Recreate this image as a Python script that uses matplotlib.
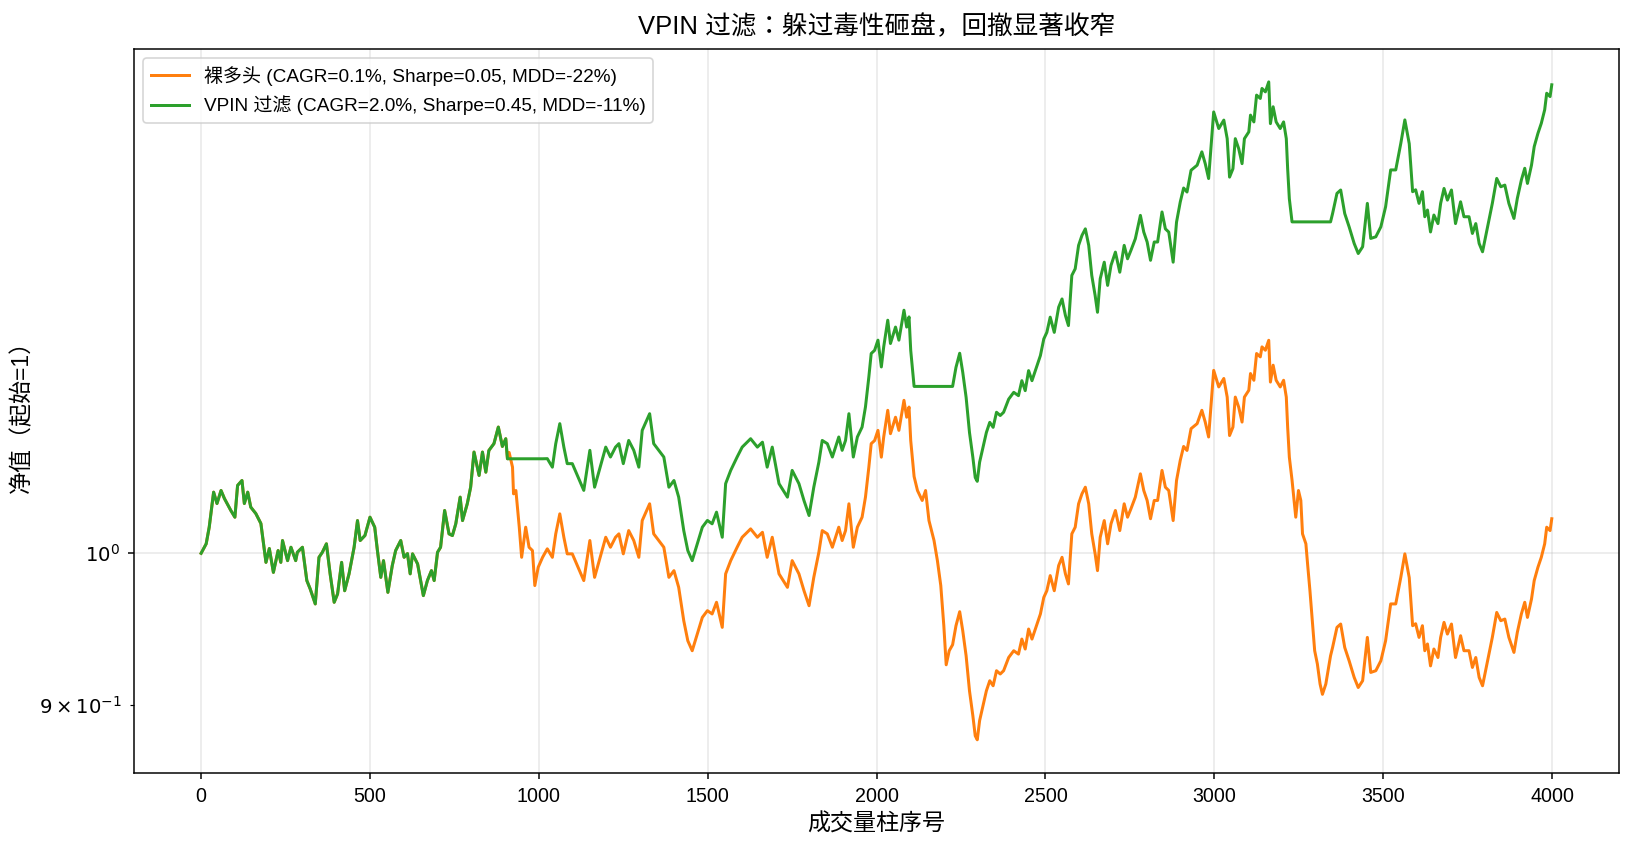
import matplotlib
matplotlib.use("Agg")
import matplotlib.pyplot as plt
from matplotlib.ticker import FixedLocator, FixedFormatter

plt.rcParams['font.family'] = ['Liberation Sans', 'Noto Sans CJK KR', 'DejaVu Sans']
plt.rcParams['axes.unicode_minus'] = False

# ---------------- data ----------------
bar_idx = [
    0, 15, 24, 37, 47, 59, 69, 88, 100, 108, 121, 128, 138, 147, 162, 177, 192, 202, 214, 228,
    236, 241, 256, 266, 280, 285, 300, 313, 323, 338, 349, 359, 371, 382, 394, 404, 416, 425, 438, 453,
    463, 471, 485, 500, 514, 522, 532, 540, 553, 566, 576, 591, 601, 611, 619, 626, 641, 658, 670, 682,
    690, 700, 709, 721, 734, 744, 754, 767, 774, 788, 798, 808, 823, 833, 843, 852, 867, 880, 892, 902, 907,
    912, 922, 925, 932, 942, 949, 961, 971, 981, 988, 998, 1011, 1025, 1040, 1050, 1062, 1074, 1084, 1099, 1114,
    1133, 1151, 1165, 1183, 1198, 1212, 1227, 1237, 1250, 1266, 1281, 1296, 1306, 1328, 1340, 1355, 1370, 1385, 1400, 1414,
    1429, 1441, 1454, 1469, 1484, 1499, 1513, 1526, 1543, 1553, 1568, 1587, 1602, 1627, 1647, 1662, 1676, 1691, 1711, 1736,
    1750, 1770, 1785, 1800, 1814, 1829, 1839, 1854, 1869, 1888, 1898, 1908, 1918, 1931, 1943, 1957, 1967, 1977, 1984, 1994,
    2004, 2014, 2021, 2033, 2041, 2056, 2066, 2081, 2089, 2096, 2101, 2111,
    2121, 2135, 2145, 2155, 2170, 2180, 2190, 2199, 2206, 2215, 2225, 2235, 2246, 2255, 2265, 2275, 2285, 2292, 2298, 2305,
    2315, 2325, 2335, 2345, 2355, 2366, 2376, 2391, 2406, 2420, 2430, 2440, 2450, 2460, 2475, 2485, 2495, 2504, 2514, 2526,
    2539, 2549, 2559, 2568, 2578, 2588, 2598, 2608, 2618, 2628, 2637, 2647, 2654, 2662, 2674, 2684, 2694, 2707, 2720, 2733,
    2743, 2753, 2766, 2781, 2791, 2801, 2811, 2822, 2832, 2845, 2855, 2865, 2878, 2888, 2899, 2909, 2919, 2931, 2949, 2963,
    2973, 2983, 2998, 3013, 3028, 3038, 3045, 3055, 3062, 3072, 3082, 3089, 3102, 3107, 3117, 3125, 3136, 3141, 3151, 3161,
    3166, 3174, 3183, 3195, 3205, 3213, 3217, 3222, 3230,
    3241, 3249, 3256, 3261, 3271, 3276, 3283, 3290, 3297, 3305, 3313, 3320, 3330, 3340, 3344, 3350, 3363, 3374, 3386, 3399,
    3414, 3426, 3439, 3453, 3463, 3478, 3493, 3507, 3522, 3537, 3552, 3564, 3577, 3587, 3596, 3606, 3616, 3623, 3631, 3640,
    3650, 3662, 3670, 3680, 3690, 3702, 3714, 3729, 3739, 3754, 3764, 3774, 3784, 3794, 3803, 3813, 3823, 3836, 3848, 3860,
    3872, 3887, 3897, 3909, 3919, 3927, 3939, 3947, 3958, 3968, 3978, 3984, 3994, 3999,
]

naked_long = [
    1.0000, 1.0066, 1.0183, 1.0434, 1.0352, 1.0446, 1.0388, 1.0302, 1.0254, 1.0483,
    1.0519, 1.0352, 1.0434, 1.0326, 1.0280, 1.0209, 0.9937, 1.0033, 0.9868, 1.0019,
    0.9937, 1.0089, 0.9949, 1.0042, 0.9949, 1.0007, 1.0042, 0.9812, 0.9755, 0.9654,
    0.9972, 1.0007, 1.0066, 0.9858, 0.9665, 0.9721, 0.9937, 0.9743, 0.9858, 1.0042,
    1.0230, 1.0089, 1.0124, 1.0254, 1.0183, 1.0019, 0.9834, 0.9949, 0.9732, 0.9915,
    1.0019, 1.0089, 0.9972, 0.9998, 0.9858, 0.9996, 0.9926, 0.9710, 0.9812, 0.9880,
    0.9812, 1.0007, 1.0042, 1.0302, 1.0136, 1.0124, 1.0207, 1.0398, 1.0230, 1.0350,
    1.0470, 1.0729, 1.0556, 1.0729, 1.0580, 1.0741, 1.0792, 1.0917, 1.0771, 1.0829, 1.0679,
    1.0726, 1.0617, 1.0422, 1.0446, 1.0183, 0.9972, 1.0183, 1.0042, 1.0019, 0.9778,
    0.9903, 0.9972, 1.0031, 0.9972, 1.0136, 1.0278, 1.0112, 0.9996, 0.9996, 0.9915,
    0.9812, 1.0089, 0.9834, 0.9984, 1.0112, 1.0042, 1.0112, 1.0136, 0.9996, 1.0159,
    1.0089, 0.9972, 1.0230, 1.0350, 1.0136, 1.0089, 1.0042, 0.9834, 0.9880, 0.9766,
    0.9542, 0.9410, 0.9345, 0.9454, 0.9564, 0.9609, 0.9587, 0.9665, 0.9498, 0.9858,
    0.9949, 1.0042, 1.0112, 1.0171, 1.0112, 1.0147, 0.9972, 1.0112, 0.9858, 0.9766,
    0.9949, 0.9858, 0.9743, 0.9642, 0.9834, 1.0007, 1.0159, 1.0136, 1.0042, 1.0183,
    1.0089, 1.0159, 1.0350, 1.0042, 1.0183, 1.0254, 1.0398, 1.0617, 1.0792, 1.0815,
    1.0892, 1.0691, 1.0842, 1.1045, 1.0867, 1.0992, 1.0892, 1.1122, 1.0992, 1.1070,
    1.0815, 1.0548,
    1.0446, 1.0374, 1.0446, 1.0230, 1.0089, 0.9949, 0.9778, 0.9509, 0.9254, 0.9345,
    0.9384, 0.9509, 0.9602, 0.9476, 0.9312, 0.9088, 0.8931, 0.8808, 0.8784, 0.8902,
    0.8994, 0.9088, 0.9152, 0.9120, 0.9216, 0.9195, 0.9216, 0.9301, 0.9345, 0.9323,
    0.9421, 0.9356, 0.9487, 0.9421, 0.9520, 0.9587, 0.9698, 0.9743, 0.9846, 0.9743,
    0.9915, 0.9972, 0.9858, 0.9789, 1.0136, 1.0183, 1.0350, 1.0422, 1.0470, 1.0350,
    1.0136, 0.9996, 0.9880, 1.0112, 1.0230, 1.0066, 1.0207, 1.0302, 1.0159, 1.0350,
    1.0254, 1.0314, 1.0398, 1.0568, 1.0446, 1.0374, 1.0243, 1.0374, 1.0374, 1.0593,
    1.0470, 1.0446, 1.0230, 1.0519, 1.0667, 1.0771, 1.0741, 1.0905, 1.0943, 1.1045,
    1.0955, 1.0842, 1.1356, 1.1226, 1.1292, 1.1147, 1.0853, 1.0917, 1.1147, 1.1070,
    1.0955, 1.1147, 1.1200, 1.1331, 1.1278, 1.1490, 1.1463, 1.1543, 1.1516, 1.1596,
    1.1264, 1.1397, 1.1278, 1.1226, 1.1278, 1.1147, 1.0917, 1.0691, 1.0521,
    1.0254, 1.0446, 1.0374, 1.0136, 1.0066, 0.9926, 0.9743, 0.9542, 0.9345, 0.9259,
    0.9131, 0.9066, 0.9131, 0.9259, 0.9312, 0.9366, 0.9498, 0.9520, 0.9366, 0.9280,
    0.9173, 0.9109, 0.9152, 0.9432, 0.9205, 0.9216, 0.9280, 0.9410, 0.9654, 0.9654,
    0.9834, 0.9996, 0.9832, 0.9509, 0.9522, 0.9432, 0.9509, 0.9345, 0.9389, 0.9247,
    0.9356, 0.9301, 0.9432, 0.9531, 0.9454, 0.9520, 0.9301, 0.9443, 0.9345, 0.9345,
    0.9237, 0.9301, 0.9173, 0.9120, 0.9216, 0.9323, 0.9432, 0.9597, 0.9542, 0.9553,
    0.9432, 0.9334, 0.9465, 0.9587, 0.9665, 0.9564, 0.9687, 0.9812, 0.9903, 0.9972,
    1.0066, 1.0183, 1.0159, 1.0243,
]

vpin_filtered = [
    1.0000, 1.0066, 1.0183, 1.0434, 1.0352, 1.0446, 1.0388, 1.0302, 1.0254, 1.0483,
    1.0519, 1.0352, 1.0434, 1.0326, 1.0280, 1.0209, 0.9937, 1.0033, 0.9868, 1.0019,
    0.9937, 1.0089, 0.9949, 1.0042, 0.9949, 1.0007, 1.0042, 0.9812, 0.9755, 0.9654,
    0.9972, 1.0007, 1.0066, 0.9858, 0.9665, 0.9721, 0.9937, 0.9743, 0.9858, 1.0042,
    1.0230, 1.0089, 1.0124, 1.0254, 1.0183, 1.0019, 0.9834, 0.9949, 0.9732, 0.9915,
    1.0019, 1.0089, 0.9972, 0.9998, 0.9858, 0.9996, 0.9926, 0.9710, 0.9812, 0.9880,
    0.9812, 1.0007, 1.0042, 1.0302, 1.0136, 1.0124, 1.0207, 1.0398, 1.0230, 1.0350,
    1.0470, 1.0729, 1.0556, 1.0729, 1.0580, 1.0741, 1.0792, 1.0917, 1.0771, 1.0829, 1.0679,
    1.0679, 1.0679, 1.0679, 1.0679, 1.0679, 1.0679, 1.0679, 1.0679, 1.0679, 1.0679,
    1.0679, 1.0679, 1.0680, 1.0617, 1.0792, 1.0943, 1.0766, 1.0643, 1.0643, 1.0556,
    1.0447, 1.0742, 1.0470, 1.0630, 1.0766, 1.0692, 1.0766, 1.0792, 1.0643, 1.0816,
    1.0742, 1.0617, 1.0892, 1.1019, 1.0792, 1.0742, 1.0692, 1.0470, 1.0519, 1.0398,
    1.0159, 1.0019, 0.9949, 1.0066, 1.0183, 1.0231, 1.0207, 1.0290, 1.0112, 1.0496,
    1.0593, 1.0692, 1.0766, 1.0829, 1.0766, 1.0803, 1.0617, 1.0766, 1.0496, 1.0398,
    1.0593, 1.0496, 1.0373, 1.0266, 1.0470, 1.0654, 1.0816, 1.0792, 1.0692, 1.0842,
    1.0742, 1.0816, 1.1019, 1.0692, 1.0842, 1.0917, 1.1071, 1.1304, 1.1490, 1.1515,
    1.1597, 1.1383, 1.1543, 1.1759, 1.1570, 1.1703, 1.1597, 1.1841, 1.1703, 1.1786,
    1.1515, 1.1230,
    1.1230, 1.1230, 1.1230, 1.1230, 1.1230, 1.1230, 1.1230, 1.1230, 1.1230, 1.1230,
    1.1230, 1.1380, 1.1492, 1.1341, 1.1145, 1.0876, 1.0689, 1.0541, 1.0513, 1.0654,
    1.0764, 1.0876, 1.0953, 1.0915, 1.1030, 1.1005, 1.1030, 1.1131, 1.1184, 1.1158,
    1.1275, 1.1197, 1.1354, 1.1275, 1.1393, 1.1474, 1.1607, 1.1660, 1.1784, 1.1660,
    1.1866, 1.1934, 1.1798, 1.1715, 1.2131, 1.2187, 1.2387, 1.2473, 1.2530, 1.2387,
    1.2131, 1.1963, 1.1824, 1.2102, 1.2243, 1.2047, 1.2216, 1.2329, 1.2158, 1.2387,
    1.2272, 1.2344, 1.2444, 1.2648, 1.2502, 1.2416, 1.2259, 1.2416, 1.2416, 1.2678,
    1.2530, 1.2502, 1.2243, 1.2589, 1.2766, 1.2891, 1.2855, 1.3051, 1.3097, 1.3219,
    1.3111, 1.2976, 1.3591, 1.3435, 1.3514, 1.3341, 1.2989, 1.3065, 1.3341, 1.3249,
    1.3111, 1.3341, 1.3404, 1.3561, 1.3497, 1.3751, 1.3719, 1.3815, 1.3782, 1.3878,
    1.3481, 1.3640, 1.3497, 1.3435, 1.3497, 1.3341, 1.3065, 1.2795, 1.2591,
    1.2591, 1.2591, 1.2591, 1.2591, 1.2591, 1.2591, 1.2591, 1.2591, 1.2591, 1.2591,
    1.2591, 1.2591, 1.2591, 1.2591, 1.2591, 1.2664, 1.2843, 1.2873, 1.2664, 1.2548,
    1.2403, 1.2317, 1.2375, 1.2754, 1.2447, 1.2461, 1.2548, 1.2724, 1.3054, 1.3054,
    1.3297, 1.3516, 1.3294, 1.2858, 1.2875, 1.2754, 1.2858, 1.2636, 1.2695, 1.2503,
    1.2651, 1.2576, 1.2754, 1.2887, 1.2783, 1.2873, 1.2576, 1.2768, 1.2636, 1.2636,
    1.2490, 1.2576, 1.2403, 1.2332, 1.2461, 1.2606, 1.2754, 1.2977, 1.2902, 1.2917,
    1.2754, 1.2621, 1.2798, 1.2963, 1.3069, 1.2932, 1.3098, 1.3267, 1.3390, 1.3484,
    1.3611, 1.3769, 1.3737, 1.3850,
]

label_naked = "裸多头 (CAGR=0.1%, Sharpe=0.05, MDD=-22%)"
label_vpin = "VPIN 过滤 (CAGR=2.0%, Sharpe=0.45, MDD=-11%)"
title = "VPIN 过滤：躲过毒性砸盘，回撤显著收窄"
xlabel = "成交量柱序号"
ylabel = "净值（起始=1）"
y_minor_ticks = [0.9]
y_minor_labels = [r"$\mathdefault{9\times10^{-1}}$"]

assert len(bar_idx) == len(naked_long) == len(vpin_filtered), (len(bar_idx), len(naked_long), len(vpin_filtered))

# ---------------- plot ----------------
fig = plt.figure(figsize=(13.625, 7.125), dpi=120)
ax = fig.add_axes([0.0817, 0.0963, 0.9087, 0.8464])

ax.plot(bar_idx, naked_long, color="#ff7f0e", lw=1.8, label=label_naked)
ax.plot(bar_idx, vpin_filtered, color="#2ca02c", lw=1.8, label=label_vpin)
ax.set_yscale("log")
ax.yaxis.set_minor_locator(FixedLocator(y_minor_ticks))
ax.yaxis.set_minor_formatter(FixedFormatter(y_minor_labels))

ax.set_title(title, fontsize=15.4, pad=9)
ax.set_xlabel(xlabel, fontsize=13.8)
ax.set_ylabel(ylabel, fontsize=13.8)
ax.grid(True, alpha=0.3, lw=0.9)
ax.tick_params(axis="both", which="major", labelsize=11.8, length=3.85, width=0.9, pad=4.6)
ax.tick_params(axis="both", which="minor", labelsize=11.8, length=2.2, width=0.7, pad=4.6)
for s in ax.spines.values():
    s.set_linewidth(0.9)
ax.legend(loc="upper left", fontsize=11.4)

fig.canvas.draw()
for lbl in ax.get_yticklabels(which="both"):
    lbl.set_fontfamily("DejaVu Sans")

fig.savefig("out.png", dpi=120)
